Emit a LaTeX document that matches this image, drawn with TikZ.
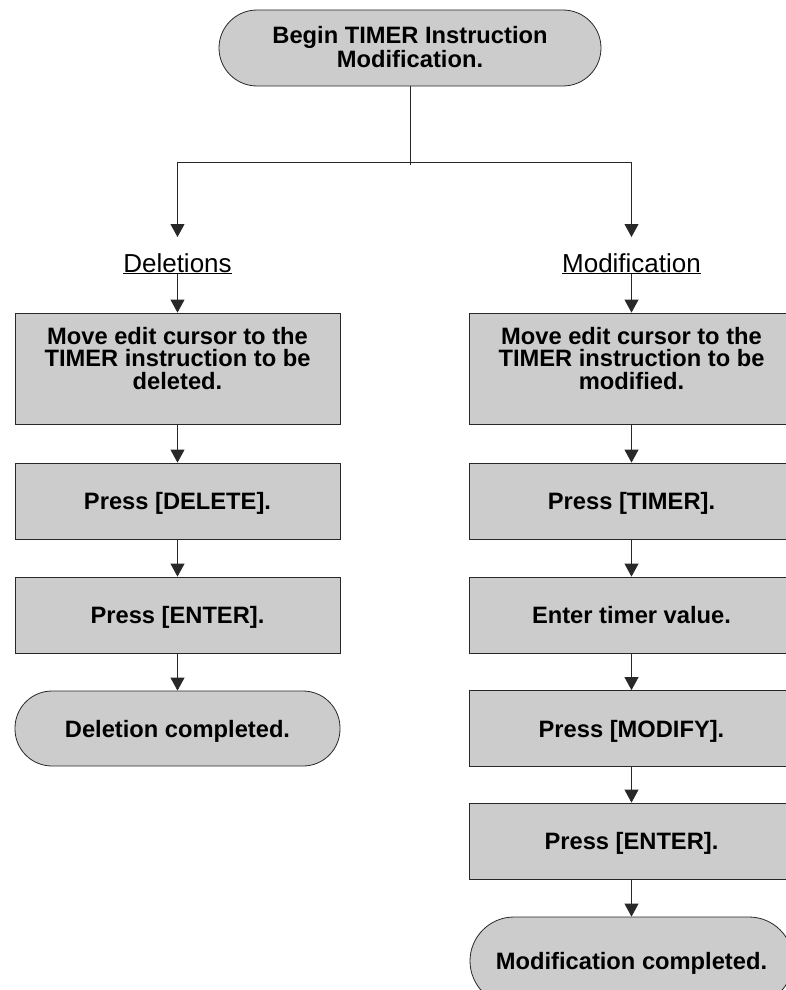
\documentclass[tikz,border=0pt]{standalone}
\usepackage{fontspec}
\setmainfont{Liberation Sans}
\usetikzlibrary{arrows.meta}
\definecolor{boxgray}{RGB}{204,204,204}
\definecolor{edge}{RGB}{40,40,40}
\begin{document}
\begin{tikzpicture}[x=1pt,y=-1pt,
  box/.style={draw=edge, line width=0.8pt, fill=boxgray, minimum width=325pt,
    align=center, font=\fontsize{23.7}{22.5}\selectfont\bfseries, inner sep=0pt,
    text height=17pt, text depth=0pt},
  tall/.style={box, minimum height=111pt, text height=62pt, text depth=21pt},
  term/.style={box},
  lbl/.style={font=\fontsize{26}{28}\selectfont, inner sep=0pt, anchor=base},
  ln/.style={line width=0.8pt, draw=edge},
  arr/.style={ln, -{Triangle[length=13pt,width=14pt]}}]
\useasboundingbox (0,0) rectangle (786,990);
\clip (0,0) rectangle (786,990);

% top terminator
\node[term, minimum width=382pt, minimum height=76pt, rounded corners=38pt,
      font=\fontsize{23.7}{24.5}\selectfont\bfseries, text height=41.5pt, text depth=2.5pt]
  (top) at (410,48) {Begin TIMER Instruction\\Modification.};

% junction
\coordinate (jm) at (410,165);
\coordinate (jl) at (177.5,162);
\coordinate (jr) at (631.5,162);
\coordinate (dtip) at (177.5,237);
\coordinate (mtip) at (631.5,237);
\draw[ln] (top.south) -- (jm);
\draw[ln] (jl) -- (jr);

% labels
\node[lbl] (dl) at (177.5,272) {\underline{Deletions}};
\node[lbl] (ml) at (631.5,272) {\underline{Modification}};
\draw[arr] (jl) -- (dtip);
\draw[arr] (jr) -- (mtip);

% left column
\node[tall] (b1) at (177.5,368.5)
  {Move edit cursor to the\\TIMER instruction to be\\deleted.};
\node[box, minimum height=76pt] (b2) at (177.5,501) {Press [DELETE].};
\node[box, minimum height=76pt] (b3) at (177.5,615) {Press [ENTER].};
\node[term, minimum height=75pt, rounded corners=37pt] (b4) at (177.5,728.5)
  {Deletion completed.};

\draw[arr] (dl.south) -- (b1.north);
\draw[arr] (b1) -- (b2);
\draw[arr] (b2) -- (b3);
\draw[arr] (b3) -- (b4);

% right column
\node[tall] (r1) at (631.5,368.5)
  {Move edit cursor to the\\TIMER instruction to be\\modified.};
\node[box, minimum height=76pt] (r2) at (631.5,501) {Press [TIMER].};
\node[box, minimum height=76pt] (r3) at (631.5,615) {Enter timer value.};
\node[box, minimum height=76pt] (r4) at (631.5,728.5) {Press [MODIFY].};
\node[box, minimum height=76pt] (r5) at (631.5,841) {Press [ENTER].};
\node[term, minimum width=323pt, minimum height=88pt, rounded corners=44pt] (r6)
  at (631.5,961) {Modification completed.};

\draw[arr] (ml.south) -- (r1.north);
\draw[arr] (r1) -- (r2);
\draw[arr] (r2) -- (r3);
\draw[arr] (r3) -- (r4);
\draw[arr] (r4) -- (r5);
\draw[arr] (r5) -- (r6);
\end{tikzpicture}
\end{document}
